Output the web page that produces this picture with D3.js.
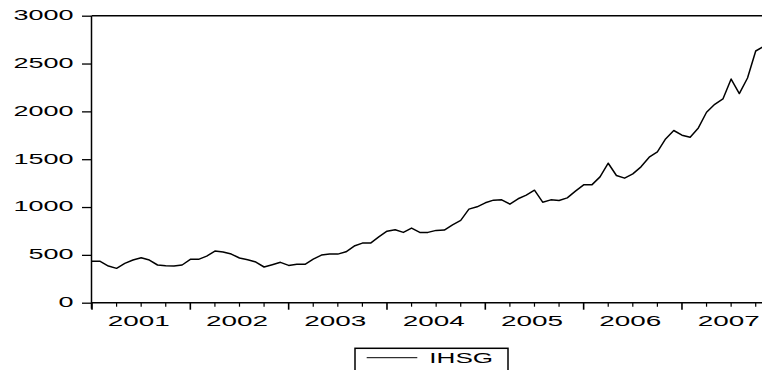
<!DOCTYPE html>
<html>
<head>
<meta charset="utf-8">
<script src="https://cdn.jsdelivr.net/npm/d3@7"></script>
<style>
  html, body { margin: 0; padding: 0; background: #fff; }
  svg { display: block; }
  text { font-family: "Liberation Sans", Arial, sans-serif; fill: #000; }
</style>
</head>
<body>
<svg id="chart" width="762" height="370"></svg>
<script>
// ---- Data: IHSG monthly, 2001M1 .. 2007M12 ----
const startYear = 2001;
const yearLabels = ["2001", "2002", "2003", "2004", "2005", "2006", "2007"];
const yTicks = [0, 500, 1000, 1500, 2000, 2500, 3000];
const seriesName = "IHSG";
const ihsg2001 = [432, 432, 383, 359, 411, 446, 470, 446, 394, 387, 383, 394];
const ihsg2002 = [453, 453, 487, 540, 529, 508, 467, 449, 425, 373, 397, 422];
const ihsg2003 = [390, 401, 401, 456, 498, 508, 508, 532, 592, 623, 623, 689];
const ihsg2004 = [748, 762, 735, 780, 735, 735, 756, 759, 814, 860, 978, 1002];
const ihsg2005 = [1044, 1072, 1075, 1030, 1086, 1124, 1176, 1051, 1075, 1069, 1096, 1166];
const ihsg2006 = [1232, 1232, 1315, 1458, 1330, 1302, 1347, 1420, 1521, 1576, 1712, 1800];
const ihsg2007 = [1751, 1730, 1827, 1991, 2074, 2130, 2338, 2186, 2349, 2631, 2681, 2746];
const values = [].concat(ihsg2001, ihsg2002, ihsg2003, ihsg2004, ihsg2005, ihsg2006, ihsg2007);

(function () {
  const svg = d3.select("#chart");
  const pLeft = 92, pTop = 15.7, pBottom = 302.7;
  const monthPx = 8.194;
  const pRight = pLeft + 84 * monthPx;
  const stretch = 1.8;

  const x = d3.scaleLinear().domain([0, 84]).range([pLeft, pRight]);
  const y = d3.scaleLinear().domain([0, 3000]).range([pBottom, pTop]);

  // frame top
  svg.append("line").attr("x1", pLeft).attr("x2", pRight + 10).attr("y1", pTop).attr("y2", pTop)
    .attr("stroke", "#000").attr("stroke-width", 1.5);

  // y axis
  const yAxis = d3.axisLeft(y).tickValues(yTicks).tickSize(10).tickFormat("");
  const gy = svg.append("g").attr("transform", `translate(${pLeft},0)`).call(yAxis);
  gy.select(".domain").attr("stroke-width", 1.5).attr("d", `M-0.5,${pTop}V${pBottom + 6}`);
  gy.selectAll(".tick line").attr("stroke-width", 1.3);
  yTicks.forEach(v => {
    svg.append("text")
      .attr("transform", `translate(73.5,${y(v) + 4.3}) scale(${stretch},1)`)
      .attr("text-anchor", "end")
      .attr("font-size", 15)
      .text(v);
  });

  // x axis: quarterly minor ticks, yearly major ticks
  const quarterTicks = d3.range(0, 85, 3);
  const gx = svg.append("g").attr("transform", `translate(0,${pBottom})`);
  gx.append("line").attr("x1", pLeft - 1).attr("x2", pRight + 10).attr("y1", 0).attr("y2", 0)
    .attr("stroke", "#000").attr("stroke-width", 1.5);
  quarterTicks.forEach(m => {
    const major = m % 12 === 0;
    gx.append("line").attr("x1", x(m)).attr("x2", x(m)).attr("y1", 0).attr("y2", major ? 7 : 4)
      .attr("stroke", "#000").attr("stroke-width", major ? 1.6 : 1.2);
  });
  yearLabels.forEach((lab, k) => {
    svg.append("text")
      .attr("transform", `translate(${x(k * 12 + 5.7)},326) scale(${stretch},1)`)
      .attr("text-anchor", "middle")
      .attr("font-size", 15.5)
      .text(lab);
  });

  // series line
  const line = d3.line().x((d, i) => x(i)).y(d => y(d));
  svg.append("path").datum(values).attr("d", line)
    .attr("fill", "none").attr("stroke", "#000").attr("stroke-width", 1.5)
    .attr("stroke-linejoin", "round");

  // legend
  svg.append("rect").attr("x", 355).attr("y", 348.3).attr("width", 153).attr("height", 30)
    .attr("fill", "#fff").attr("stroke", "#000").attr("stroke-width", 1.5);
  svg.append("line").attr("x1", 366.7).attr("x2", 417.3).attr("y1", 357.7).attr("y2", 357.7)
    .attr("stroke", "#000").attr("stroke-width", 1);
  svg.append("text")
    .attr("transform", `translate(429.3,362.5) scale(${stretch},1)`)
    .attr("font-size", 14.5)
    .text(seriesName);
})();
</script>
</body>
</html>
